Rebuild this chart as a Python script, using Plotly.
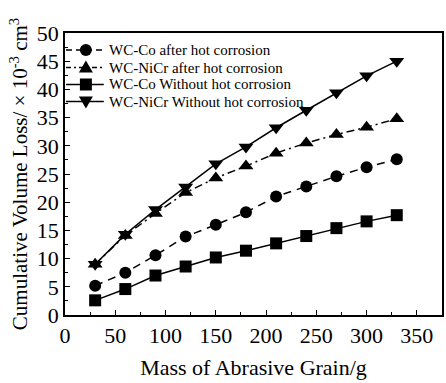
import plotly.graph_objects as go

mass = [30, 60, 90, 120, 150, 180, 210, 240, 270, 300, 330]
co_after = [5.2, 7.5, 10.6, 13.9, 16.0, 18.2, 21.0, 22.8, 24.6, 26.2, 27.6]
nicr_after = [9.0, 14.1, 18.0, 21.7, 24.3, 26.4, 28.7, 30.5, 32.0, 33.3, 34.8]
co_without = [2.6, 4.6, 7.0, 8.6, 10.2, 11.4, 12.7, 14.0, 15.4, 16.6, 17.7]
nicr_without = [9.0, 14.3, 18.7, 22.7, 26.8, 29.8, 33.2, 36.3, 39.4, 42.4, 45.0]

names = ["WC-Co after hot corrosion", "WC-NiCr after hot corrosion",
         "WC-Co Without hot corrosion", "WC-NiCr Without hot corrosion"]
series = [co_after, nicr_after, co_without, nicr_without]
symbols = ["circle", "triangle-up", "square", "triangle-down"]
dashes = ["8px,6px", "8px,4px,2px,4px", "solid", "solid"]
sizes = [12, 13, 12, 13]

FONT = "Liberation Serif, Times New Roman, serif"

# layout geometry (pixels)
W, H = 446, 383
ML, MR, MT, MB = 65, 2, 33, 68
PW, PH = W - ML - MR, H - MT - MB

def px_x(px):
    return (px - ML) / PW

def px_y(py):
    return (H - MB - py) / PH

fig = go.Figure()
for n, s, sym, d, sz in zip(names, series, symbols, dashes, sizes):
    fig.add_trace(go.Scatter(
        x=mass, y=s, name=n, mode="lines+markers",
        line=dict(color="black", width=1.5, dash=d),
        marker=dict(symbol=sym, size=sz, color="black"),
        showlegend=False,
    ))

# custom legend (compact rows like the reference)
legend_rows = [50, 67.5, 84.5, 101.5]
leg_line = (66, 104)
leg_marker_x = 86
leg_text_x = 107
shape_dash = ["6px,4px", "5px,3px,2px,3px", "solid", "solid"]
# pixel-sized shape paths: y axis points upward
marker_paths = {
    "triangle-up": "M -7 -5 L 7 -5 L 0 7 Z",
    "triangle-down": "M -7 5 L 7 5 L 0 -7 Z",
}
shapes = []
annotations = []
for n, sym, d, ry in zip(names, symbols, shape_dash, legend_rows):
    yp = px_y(ry)
    shapes.append(dict(type="line", xref="paper", yref="paper",
                       x0=px_x(leg_line[0]), x1=px_x(leg_line[1]), y0=yp, y1=yp,
                       line=dict(color="black", width=1.5, dash=d)))
    xa = px_x(leg_marker_x)
    common = dict(xref="paper", yref="paper", xsizemode="pixel", ysizemode="pixel",
                  xanchor=xa, yanchor=yp, fillcolor="black",
                  line=dict(color="black", width=0))
    if sym == "circle":
        shapes.append(dict(type="circle", x0=-6, x1=6, y0=-6, y1=6, **common))
    elif sym == "square":
        shapes.append(dict(type="rect", x0=-6, x1=6, y0=-6, y1=6, **common))
    else:
        shapes.append(dict(type="path", path=marker_paths[sym], **common))
    annotations.append(dict(text=n, xref="paper", yref="paper",
                            x=px_x(leg_text_x), y=yp, xanchor="left", yanchor="middle",
                            showarrow=False, font=dict(size=15, family=FONT, color="black")))

fig.update_layout(
    width=W, height=H,
    margin=dict(l=ML, r=MR, t=MT, b=MB),
    paper_bgcolor="white", plot_bgcolor="white",
    font=dict(family=FONT, color="black", size=20),
    showlegend=False,
    shapes=shapes,
    annotations=annotations,
    xaxis=dict(
        range=[0, 375], tickvals=[0, 50, 100, 150, 200, 250, 300, 350],
        ticks="inside", ticklen=5, tickwidth=1, tickcolor="black",
        minor=dict(ticks="inside", ticklen=3, dtick=25, tickcolor="black"),
        showline=True, linecolor="black", linewidth=1.5, mirror=True,
        showgrid=False, zeroline=False,
        tickfont=dict(size=22, family=FONT),
        title=dict(text="Mass of Abrasive Grain/g", font=dict(size=22, family=FONT), standoff=12),
    ),
    yaxis=dict(
        range=[0, 50], tickvals=[0, 5, 10, 15, 20, 25, 30, 35, 40, 45, 50],
        ticks="inside", ticklen=5, tickwidth=1, tickcolor="black",
        minor=dict(ticks="inside", ticklen=3, dtick=2.5, tickcolor="black"),
        showline=True, linecolor="black", linewidth=1.5, mirror=True,
        showgrid=False, zeroline=False,
        tickfont=dict(size=22, family=FONT),
        title=dict(text="Cumulative Volume Loss/ × 10<sup>-3</sup> cm<sup>3</sup>",
                   font=dict(size=21, family=FONT), standoff=3),
    ),
)

fig.write_html("out.html")
